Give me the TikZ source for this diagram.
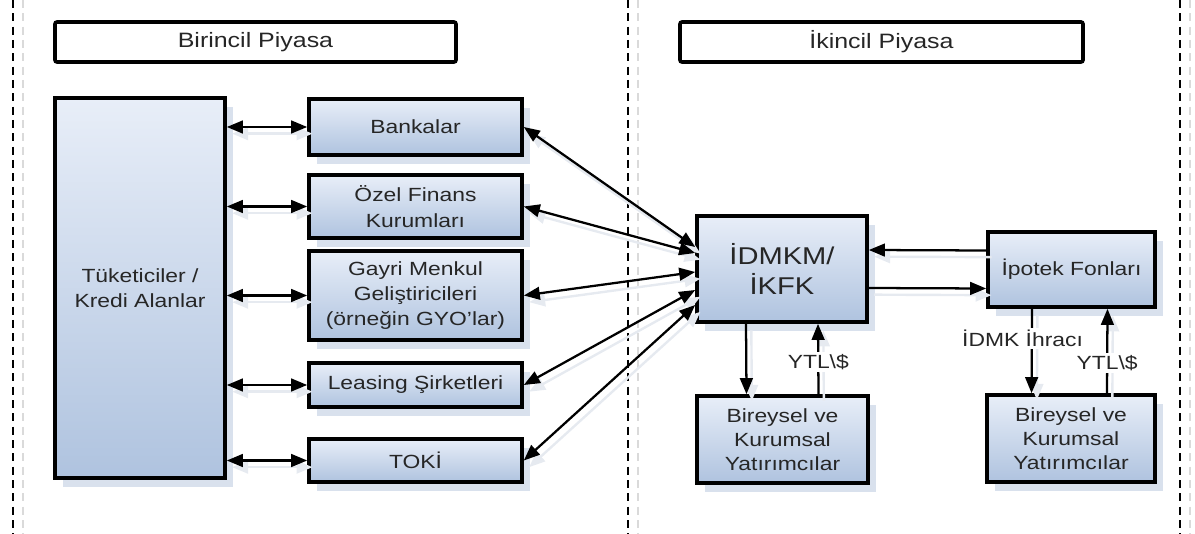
\documentclass[tikz,border=0pt]{standalone}
\usepackage{fontspec}
\setmainfont{Liberation Sans}[FakeStretch=1.2]
\usetikzlibrary{arrows.meta,shadows,calc}
\definecolor{boxtop}{HTML}{E8EEF8}
\definecolor{boxbot}{HTML}{AFC3DF}
\definecolor{shad}{HTML}{D9E1ED}
\definecolor{txt}{HTML}{262626}
\definecolor{dshadow}{HTML}{DADADA}
\definecolor{lshadow}{HTML}{E6EAF0}
\newcommand\bodyfont{\fontsize{14.3}{19}\selectfont}
\newcommand\birfont{\fontsize{14.3}{18}\selectfont}
\newcommand\titlefont{\fontsize{15.6}{18}\selectfont}
\newcommand\bigfont{\fontsize{18.2}{22.5}\selectfont}
\tikzset{
  box/.style={draw=black, line width=2.7pt, top color=boxtop, bottom color=boxbot,
    text=txt, align=center, inner sep=2pt, font=\bodyfont,
    drop shadow={shadow xshift=6pt, shadow yshift=-7pt, fill=shad, opacity=1}},
  titlebox/.style={draw=black, line width=2.7pt, fill=white, rounded corners=1.5pt,
    text=txt, align=center, inner sep=2pt, font=\titlefont},
  conn/.style={line width=1.7pt, draw=black,
    preaction={draw=lshadow, line width=1.8pt, transform canvas={xshift=4pt,yshift=-5pt}}},
  tip/.tip={Triangle[length=12pt,width=9.5pt]},
  dbl/.style={tip-tip},
  one/.style={-tip},
  lbl/.style={fill=white, text=txt, font=\bodyfont, inner sep=1.5pt},
  dashline/.style={line width=1.2pt, dash pattern=on 6pt off 4pt},
  dashshade/.style={line width=0.8pt, draw=dshadow, dash pattern=on 6pt off 4pt}
}
\begin{document}
\begin{tikzpicture}[x=0.75pt,y=-0.75pt]
\useasboundingbox (0,0) rectangle (1195,534);
% dashed separators
\draw[dashshade] (23,0) -- (23,534);
\draw[dashshade] (638,0) -- (638,534);
\draw[dashshade] (1190,0) -- (1190,534);
\draw[dashline] (13,0) -- (13,534);
\draw[dashline] (628,0) -- (628,534);
\draw[dashline] (1180,0) -- (1180,534);
% titles
\node[titlebox, minimum width=300.75pt, minimum height=30pt] (t1) at (255.5,42) {Birincil Piyasa};
\node[titlebox, minimum width=302.25pt, minimum height=30pt] (t2) at (881.5,42) {İkincil Piyasa};
% left boxes
\node[box, minimum width=127.5pt, minimum height=285pt] (tuk) at (140,288) {Tüketiciler /\\Kredi Alanlar};
\node[box, minimum width=159.75pt, minimum height=42pt] (bank) at (415.5,127) {Bankalar};
\node[box, minimum width=159.75pt, minimum height=47.25pt] (ozel) at (415.5,206.5) {Özel Finans\\Kurumları};
\node[box, minimum width=159.75pt, minimum height=66.75pt] (gayri) at (415.5,295.5) {Gayri Menkul\\Geliştiricileri\\(örneğin GYO'lar)};
\node[box, minimum width=159.75pt, minimum height=33pt] (leas) at (415.5,385) {Leasing Şirketleri};
\node[box, minimum width=159.75pt, minimum height=32.25pt] (toki) at (415.5,460.5) {TOKİ};
% right boxes
\node[box, font=\bigfont, minimum width=127.5pt, minimum height=79.5pt] (idm) at (782,269) {İDMKM/\\İKFK};
\node[box, minimum width=125.25pt, minimum height=56.25pt] (ipo) at (1071.5,269.5) {İpotek Fonları};
\node[box, font=\birfont, minimum width=128.25pt, minimum height=65.25pt] (bir1) at (782.5,439.5) {Bireysel ve\\Kurumsal\\Yatırımcılar};
\node[box, font=\birfont, minimum width=126pt, minimum height=65.25pt] (bir2) at (1071,438.5) {Bireysel ve\\Kurumsal\\Yatırımcılar};
% consumer links
\draw[conn, dbl] (bank.west -| tuk.east) -- (bank.west);
\draw[conn, dbl] (ozel.west -| tuk.east) -- (ozel.west);
\draw[conn, dbl] (gayri.west -| tuk.east) -- (gayri.west);
\draw[conn, dbl] (leas.west -| tuk.east) -- (leas.west);
\draw[conn, dbl] (toki.west -| tuk.east) -- (toki.west);
% lender links to IDMKM
\draw[conn, dbl] (bank.east) -- ([yshift=16.5pt]idm.west);
\draw[conn, dbl] (ozel.east) -- ([yshift=12pt]idm.west);
\draw[conn, dbl] (gayri.east) -- ([yshift=-2.25pt]idm.west);
\draw[conn, dbl] (leas.east) -- ([yshift=-15.75pt]idm.west);
\draw[conn, dbl] (toki.east) -- ([yshift=-27pt]idm.west);
% IDMKM <-> Ipotek
\draw[conn, one] ([yshift=14.25pt]ipo.west) -- ([yshift=14.25pt]idm.east);
\draw[conn, one] ([yshift=-14.25pt]idm.east) -- ([yshift=-14.25pt]ipo.west);
% IDMKM <-> investors
\draw[conn, one] ([xshift=-27pt]idm.south) -- ([xshift=-27pt]bir1.north);
\draw[conn, one] ([xshift=27pt]bir1.north) -- node[lbl, pos=0.46] {YTL\textbackslash\$} ([xshift=27pt]idm.south);
% Ipotek <-> investors
\draw[conn, one] ([xshift=-29.6pt]ipo.south) -- node[lbl, pos=0.35, xshift=-7pt] {İDMK İhracı} ([xshift=-29.6pt]bir2.north);
\draw[conn, one] ([xshift=27pt]bir2.north) -- node[lbl, pos=0.36] {YTL\textbackslash\$} ([xshift=27pt]ipo.south);
\end{tikzpicture}
\end{document}
